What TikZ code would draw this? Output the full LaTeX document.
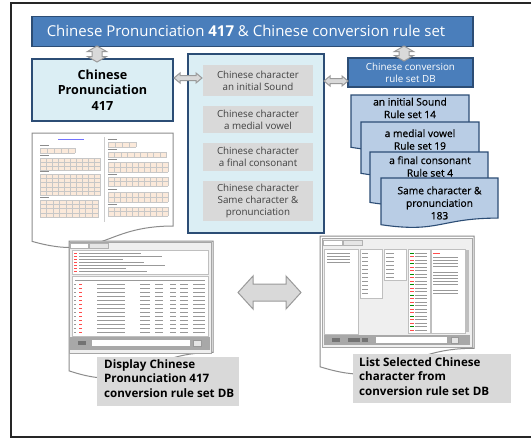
\documentclass[tikz,border=0pt]{standalone}
\usepackage{fontspec}
\setmainfont{Open Sans}
\newfontfamily\semibold[FakeBold=0.8]{Open Sans}
\usetikzlibrary{calc}
\definecolor{titleblue}{HTML}{4A7EBB}
\definecolor{darkblue}{HTML}{2C4D75}
\definecolor{lightcyan}{HTML}{DBEEF4}
\definecolor{docblue}{HTML}{B9CDE5}
\definecolor{grayfill}{HTML}{D9D9D9}
\definecolor{arrowgray}{HTML}{9A9A9A}
\definecolor{tanfill}{HTML}{FBE9DA}
\definecolor{winbg}{HTML}{EFEFEF}
\definecolor{barfill}{HTML}{A8A8A8}
\newcommand\hdarrow[5]{% from, to, half shaft, half head, head length
  \draw[blockarrow] let \p1=(#1), \p2=(#2) in
   (\x1,\y1) -- (\x1+#5pt,\y1+#4pt) -- (\x1+#5pt,\y1+#3pt) -- (\x2-#5pt,\y2+#3pt) --
   (\x2-#5pt,\y2+#4pt) -- (\x2,\y2) -- (\x2-#5pt,\y2-#4pt) -- (\x2-#5pt,\y2-#3pt) --
   (\x1+#5pt,\y1-#3pt) -- (\x1+#5pt,\y1-#4pt) -- cycle;}
\newcommand\vdarrow[5]{% from (top), to (bottom)
  \draw[blockarrow] let \p1=(#1), \p2=(#2) in
   (\x1,\y1) -- (\x1+#4pt,\y1-#5pt) -- (\x1+#3pt,\y1-#5pt) -- (\x2+#3pt,\y2+#5pt) --
   (\x2+#4pt,\y2+#5pt) -- (\x2,\y2) -- (\x2-#4pt,\y2+#5pt) -- (\x2-#3pt,\y2+#5pt) --
   (\x1-#3pt,\y1-#5pt) -- (\x1-#4pt,\y1-#5pt) -- cycle;}
\newcommand\docpath[4]{(#1,#2) -- (#3,#2) -- (#3,{#2+0.802*#4})
  .. controls ({(#1+#3)/2},{#2+0.802*#4}) and ({(#1+#3)/2},{#2+1.107*#4}) .. (#1,{#2+0.934*#4}) -- cycle}
\newcommand\tgrid[6]{%
  \fill[tanfill] (#1,#2) rectangle ({#1+#3*#5},{#2+#4*#6});
  \foreach \i in {0,...,#3}{\draw[gridline] ({#1+\i*#5},#2) -- ({#1+\i*#5},{#2+#4*#6});}
  \foreach \j in {0,...,#4}{\draw[gridline] (#1,{#2+\j*#6}) -- ({#1+#3*#5},{#2+\j*#6});}
  \draw[labelline] (#1,{#2-2.5}) -- ({#1+9},{#2-2.5});}
\begin{document}
\begin{tikzpicture}[x=1pt,y=-1pt,
  titlebox/.style={draw=darkblue,line width=1.2pt,fill=titleblue,inner sep=0},
  pronbox/.style={draw=darkblue,line width=1.2pt,fill=lightcyan,inner sep=0},
  innerbox/.style={fill=grayfill,inner sep=0,text=black!75,align=center,
     font=\fontsize{9.8}{12}\selectfont},
  docshape/.style={draw=darkblue,line width=1.1pt,fill=docblue},
  doctext/.style={align=center,font=\semibold\fontsize{10.2}{12.6}\selectfont,text=black},
  blockarrow/.style={draw=arrowgray,fill=grayfill,line width=1pt,line join=miter},
  paperframe/.style={draw=black!45,line width=1pt,fill=white},
  gridline/.style={draw=black!22,line width=0.25pt},
  labelline/.style={draw=black!45,line width=0.8pt},
  caption/.style={fill=grayfill,inner sep=0,text width=#1},
  captext/.style={align=left,anchor=north west,inner sep=0,
     font=\fontsize{11.6}{14.8}\selectfont\bfseries},
  win/.style={draw=black!35,line width=0.6pt,fill=winbg},
  pane/.style={draw=black!25,line width=0.4pt,fill=white},
  tl/.style={draw=black!40,line width=0.8pt},
  tlr/.style={draw=red!70,line width=0.8pt},
  tlg/.style={draw=green!55!black,line width=0.8pt}]
\useasboundingbox (0,0) rectangle (531,439);
\fill[white] (0,0) rectangle (531,439);
% outer frame
\draw[line width=1.3pt,black!85] (531,3) -- (11,3) -- (11,437) -- (531,437);

% title bar
\node[titlebox,minimum width=441pt,minimum height=30pt] (title) at (252.5,31.5) {};
\node[text=white,font=\fontsize{15}{18}\selectfont,inner sep=0] (titletext) at (246,31)
  {Chinese Pronunciation \textbf{417} \& Chinese conversion rule set};

% left box
\node[pronbox,minimum width=141pt,minimum height=62pt,align=center,
  font=\fontsize{12.6}{15.5}\selectfont\bfseries] (pron) at (102.5,90)
  {Chinese\\Pronunciation\\417};

% centre box
\node[pronbox,minimum width=136pt,minimum height=179pt] (centre) at (256,143.5) {};
\node[innerbox,minimum width=110pt,minimum height=31pt] (ic1) at (258,80.5)
  {Chinese character\\an initial Sound};
\node[innerbox,minimum width=110pt,minimum height=27pt] (ic2) at (258,119.5)
  {Chinese character\\a medial vowel};
\node[innerbox,minimum width=110pt,minimum height=28pt] (ic3) at (258,157)
  {Chinese character\\a final consonant};
\node[innerbox,minimum width=110pt,minimum height=40pt] (ic4) at (258,201)
  {Chinese character\\Same character \&\\pronunciation};

% DB box
\node[titlebox,minimum width=125pt,minimum height=29pt,text=white,align=center,
  font=\fontsize{9.8}{12}\selectfont] (db) at (410.5,72.5)
  {Chinese conversion\\rule set DB};

% stacked rule set documents
\draw[docshape] \docpath{351}{95}{469}{56};
\node[doctext] (doc1) at (410,108) {an initial Sound\\Rule set 14};
\draw[docshape] \docpath{361}{122}{479}{55};
\node[doctext] (doc2) at (420,139.5) {a medial vowel\\Rule set 19};
\draw[docshape] \docpath{370}{152}{488}{54};
\node[doctext] (doc3) at (430,166.5) {a final consonant\\Rule set 4};
\draw[docshape] \docpath{381}{178}{498}{50};
\node[doctext] (doc4) at (439.5,203) {Same character \&\\pronunciation\\183};

% table document (left)
\draw[paperframe] \docpath{32}{133}{173}{116};
\coordinate (tabledoc) at (102,185);
\draw[draw=blue!55,line width=1pt] (58,139) -- (84,139);
\draw[draw=black!20,line width=0.4pt] (104,137) -- (104,222);
\tgrid{40}{148}{5}{1}{7}{5}
\tgrid{40}{158}{10}{3}{6}{4.2}
\tgrid{40}{174}{10}{5}{6}{4.3}
\tgrid{40}{200}{9}{4}{6.5}{4.3}
\tgrid{108}{142}{4}{1}{7}{5}
\tgrid{108}{152}{9}{1}{6.5}{5}
\tgrid{108}{162}{10}{2}{6}{5}
\tgrid{108}{177}{10}{2}{6}{4.5}
\tgrid{108}{192}{10}{2}{6}{5}
\tgrid{108}{207}{10}{2}{6}{4.5}

% screenshot 1 with frame
\draw[paperframe] \docpath{69}{241}{213}{139};
\draw[win] (69,242) rectangle (211,353);
\coordinate (shot1) at (140,297);
\fill[white,draw=black!30,line width=0.3pt] (70,243) rectangle (88,248);
\fill[black!10,draw=black!30,line width=0.3pt] (89,243) rectangle (108,248);
\draw[pane] (72,250) rectangle (208,274);
\foreach \yy in {253,256,259,262,265,268,271}{
  \draw[tlr] (74,\yy) -- (77,\yy);
  \draw[tl,line width=0.6pt] (79,\yy) -- ({110+mod(\yy*7,60)},\yy);}
\draw[pane] (72,276) rectangle (208,336);
\draw[tl] (75,280) -- (205,280);
\foreach \yy in {284,288,...,332}{
  \draw[tl,line width=0.6pt] (74,\yy) -- (76,\yy);
  \draw[tlr,line width=0.6pt] (79,\yy) -- (82,\yy);
  \draw[tl,line width=0.6pt] (97,\yy) -- (125,\yy);
  \draw[tl,line width=0.6pt] (140,\yy) -- (150,\yy);
  \draw[tl,line width=0.6pt] (155,\yy) -- (163,\yy);
  \draw[tl,line width=0.6pt] (170,\yy) -- (176,\yy);
  \draw[tl,line width=0.6pt] (180,\yy) -- (188,\yy);
  \draw[tl,line width=0.6pt] (193,\yy) -- (205,\yy);}
\fill[barfill] (70,337) rectangle (210,350);
\fill[black!55] (78,341) rectangle (86,345);
\fill[white] (92,340) rectangle (190,346);
\fill[black!10,draw=black!40,line width=0.3pt] (193,340) rectangle (201,346);

% screenshot 2 with frame
\draw[paperframe] \docpath{320}{236}{474}{140};
\draw[win] (322,238) rectangle (472,347);
\coordinate (shot2) at (397,292);
\fill[white,draw=black!30,line width=0.3pt] (323,240) rectangle (342,245);
\fill[black!10,draw=black!30,line width=0.3pt] (343,240) rectangle (362,245);
\draw[pane] (324,249) rectangle (358,334);
\foreach \yy in {253,256,259,262}{\draw[tl,line width=0.6pt] (327,\yy) -- (350,\yy);}
\draw[pane] (360,249) rectangle (382,298);
\foreach \yy in {253,257,...,293}{\draw[tl,line width=0.5pt] (362,\yy) -- (368,\yy);}
\draw[pane] (384,249) rectangle (406,280);
\foreach \yy in {253,257,...,277}{\draw[tl,line width=0.5pt] (386,\yy) -- (394,\yy);}
\draw[pane] (408,249) rectangle (430,333);
\foreach \yy [count=\k] in {253,256.5,...,331}{
  \pgfmathtruncatemacro\m{mod(\k,3)}
  \ifnum\m=0 \draw[tlr,line width=0.6pt] (410,\yy) -- (414,\yy);
  \else\ifnum\m=1 \draw[tlg,line width=0.6pt] (410,\yy) -- (414,\yy);
  \else \draw[tlr,line width=0.6pt] (410,\yy) -- (414,\yy);\fi\fi
  \draw[tl,line width=0.6pt] (415,\yy) -- (427,\yy);}
\draw[pane] (431,249) rectangle (465,333);
\draw[tlr,line width=0.6pt] (433,253) -- (440,253);
\foreach \yy in {257,260,263,266,272,275,278,281,284,290,293}{\draw[tl,line width=0.5pt] (433,\yy) -- (458,\yy);}
\fill[black!25] (466,250) rectangle (469,332);
\fill[barfill] (324,335) rectangle (470,345);
\fill[black!55] (332,338) rectangle (340,342);
\fill[black!55] (348,338) rectangle (360,342);
\fill[black!55] (362,338) rectangle (368,342);
\fill[white] (376,337) rectangle (447,343);
\fill[black!10,draw=black!40,line width=0.3pt] (451,337) rectangle (458,343);

% captions
\node[caption=142pt,minimum height=49pt,anchor=north west] (cap1) at (97,357) {};
\node[captext] (cap1text) at (104,359) {Display Chinese\\Pronunciation 417\\conversion rule set DB};
\node[caption=158pt,minimum height=49pt,anchor=north west] (cap2) at (353,354) {};
\node[captext] (cap2text) at (359,357) {List Selected Chinese\\character from\\conversion rule set DB};

% block double arrows
\coordinate (v1a) at (97,46);  \coordinate (v1b) at (97,62);
\coordinate (v2a) at (404,46); \coordinate (v2b) at (404,61);
\coordinate (h1a) at (174,78); \coordinate (h1b) at (202,78);
\coordinate (h2a) at (324,81); \coordinate (h2b) at (348,81);
\coordinate (bga) at (238,292.5); \coordinate (bgb) at (301,292.5);
\vdarrow{v1a}{v1b}{5}{9.5}{5.5}
\vdarrow{v2a}{v2b}{5}{9.5}{5.5}
\hdarrow{h1a}{h1b}{2.5}{5}{6}
\hdarrow{h2a}{h2b}{2.5}{5}{6}
\hdarrow{bga}{bgb}{8.5}{16.5}{15}
\end{tikzpicture}
\end{document}
